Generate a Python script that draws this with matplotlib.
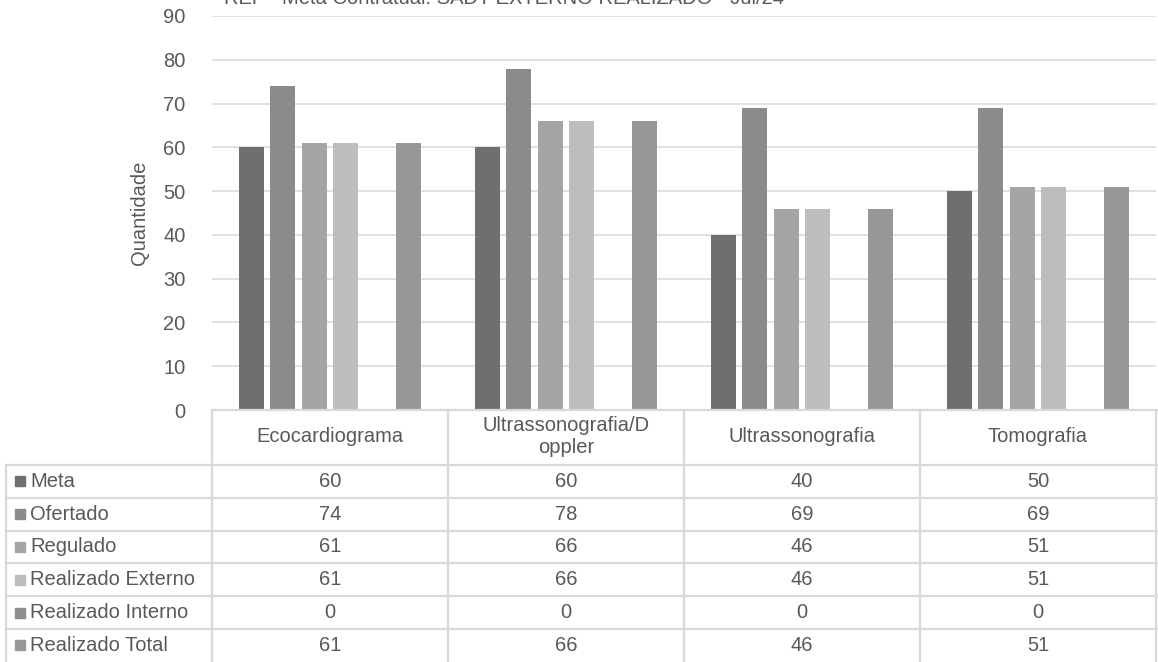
import matplotlib.pyplot as plt
from matplotlib.lines import Line2D
from matplotlib.patches import Rectangle
import numpy as np

# Data
categories = ['Ecocardiograma', 'Ultrassonografia/D\noppler', 'Ultrassonografia', 'Tomografia']
series_names = ['Meta', 'Ofertado', 'Regulado', 'Realizado Externo', 'Realizado Interno', 'Realizado Total']
meta = [60, 60, 40, 50]
ofertado = [74, 78, 69, 69]
regulado = [61, 66, 46, 51]
realizado_externo = [61, 66, 46, 51]
realizado_interno = [0, 0, 0, 0]
realizado_total = [61, 66, 46, 51]
series_values = [meta, ofertado, regulado, realizado_externo, realizado_interno, realizado_total]
colors = ['#6f6f6f', '#8b8b8b', '#a5a5a5', '#bdbdbd', '#8e8e8e', '#979797']

title = 'REF - Meta Contratual: SADT EXTERNO REALIZADO - Jul/24'

plt.rcParams['font.family'] = ['Liberation Sans', 'DejaVu Sans']
txt_color = '#595959'
line_color = '#d9d9d9'
fs = 14.5

W, H = 1158, 662
fig = plt.figure(figsize=(W / 100, H / 100), dpi=100)


def fx(x):
    return x / W


def fy(y):
    return 1 - y / H


# plot area in pixel coords of the reference
left, right, top, bottom = 212, 1156, 16, 410
ax = fig.add_axes([fx(left), fy(bottom), fx(right) - fx(left), fy(top) - fy(bottom)])

x = np.arange(len(categories))
slot = 0.8 / len(series_names)
for j, (name, vals) in enumerate(zip(series_names, series_values)):
    ax.bar(x + (j - 2.5) * slot, vals, width=slot * 0.8, color=colors[j],
           linewidth=0, zorder=3)

ax.set_xlim(-0.5, len(categories) - 0.5)
ax.set_ylim(0, 90)
ax.set_yticks(range(0, 91, 10))
ax.set_xticks([])
ax.tick_params(axis='y', length=0, pad=19, labelsize=fs, labelcolor=txt_color)
ax.grid(axis='y', color=line_color, linewidth=1.1, zorder=0)
for s in ax.spines.values():
    s.set_visible(False)
ax.set_ylabel('Quantidade', fontsize=fs, color=txt_color, labelpad=10)

# the title sits mostly above the top edge, as in the reference
fig.text(fx(504), fy(4), title, ha='center', va='baseline', fontsize=fs, color=txt_color)

# data table under the chart
header_bottom = 465
row_h = 32.8
n_rows = len(series_names)
col_edges = [left + (right - left) * k / len(categories) for k in range(len(categories) + 1)]
lw = 1.6


def hline(y, x0, x1):
    fig.add_artist(Line2D([fx(x0), fx(x1)], [fy(y), fy(y)], color=line_color, lw=lw))


def vline(x, y0, y1):
    fig.add_artist(Line2D([fx(x), fx(x)], [fy(y0), fy(y1)], color=line_color, lw=lw))


hline(bottom, left, W)
for r in range(n_rows):
    hline(header_bottom + r * row_h, 6, W)
vline(6, header_bottom, H)
for ce in col_edges:
    vline(ce, bottom, H)

for i, cat in enumerate(categories):
    cx = (col_edges[i] + col_edges[i + 1]) / 2
    fig.text(fx(cx), fy((bottom + header_bottom) / 2 - 1), cat, ha='center', va='center',
             fontsize=fs, color=txt_color, linespacing=1.2)

for r, (name, vals) in enumerate(zip(series_names, series_values)):
    cy = header_bottom + (r + 0.5) * row_h
    fig.add_artist(Rectangle((fx(15), fy(cy + 5)), fx(10), 10 / H, color=colors[r]))
    fig.text(fx(30), fy(cy), name, ha='left', va='center', fontsize=fs, color=txt_color)
    for i, v in enumerate(vals):
        cx = (col_edges[i] + col_edges[i + 1]) / 2
        fig.text(fx(cx), fy(cy), str(v), ha='center', va='center', fontsize=fs, color=txt_color)

fig.savefig('out.png', dpi=100)
